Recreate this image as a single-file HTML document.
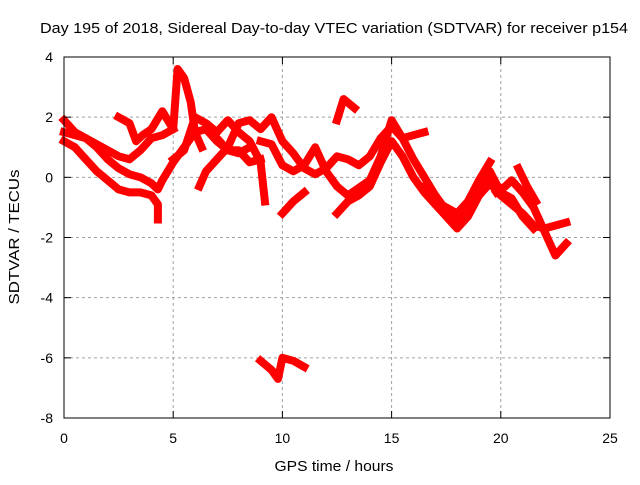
<!DOCTYPE html>
<html><head><meta charset="utf-8"><style>
body{margin:0;background:#fff;width:640px;height:480px;overflow:hidden}
svg{font-family:"Liberation Sans",sans-serif}
</style></head><body>
<svg id="chart" width="640" height="480" viewBox="0 0 640 480">
<text x="334" y="33" font-size="15" text-anchor="middle" textLength="588" lengthAdjust="spacingAndGlyphs">Day 195 of 2018, Sidereal Day-to-day VTEC variation (SDTVAR) for receiver p154</text>
<text x="334" y="471" font-size="15" text-anchor="middle" textLength="119" lengthAdjust="spacingAndGlyphs">GPS time / hours</text>
<text x="0" y="0" font-size="15" text-anchor="middle" textLength="135" lengthAdjust="spacingAndGlyphs" transform="translate(19,237) rotate(-90)">SDTVAR / TECUs</text>
<g id="grid"></g>
<g id="series"></g>
<rect x="64" y="57" width="546" height="361" fill="none" stroke="#000" stroke-width="1"/>
<g id="ticks"></g>
</svg>
<script>
const xTicks=[0,5,10,15,20,25];
const yTicks=[4,2,0,-2,-4,-6,-8];
const track1=[[0,1.9],[0.5,1.5],[1,1.3],[1.5,1.0],[2,0.6],[2.5,0.3],[3,0.1],[3.5,0.0],[4,-0.2],[4.3,-0.4],[4.5,-0.1],[5,0.5],[5.5,1.0],[6,1.5],[6.5,1.6],[7,1.2],[7.5,0.9],[8,0.8],[8.5,1.0]];
const track2=[[0,1.2],[0.5,1.0],[1,0.6],[1.5,0.2],[2,-0.1],[2.5,-0.4],[3,-0.5],[3.5,-0.5],[4,-0.6],[4.3,-0.9],[4.3,-1.4]];
const track3=[[0,1.5],[1,1.3],[2,0.9],[2.5,0.7],[3,0.6],[3.5,0.9],[4,1.3],[4.5,1.4],[5,1.6]];
const track4=[[2.5,2.0],[3,1.8],[3.3,1.2],[3.6,1.4],[4,1.6],[4.5,2.2],[5,1.6],[5.2,3.6],[5.5,3.3],[5.8,2.5],[6,1.5],[6.3,1.0]];
const track5=[[5,0.6],[5.5,0.9],[6,2.0],[6.5,1.8],[7,1.5],[7.5,1.9],[8,1.5],[8.5,1.2],[9,0.5],[9.2,-0.8]];
const track6=[[6.2,-0.3],[6.5,0.2],[7,0.6],[7.5,1.0],[8,1.8],[8.5,1.9],[9,1.6],[9.5,2.0],[10,1.2],[10.5,0.8],[11,0.3],[11.5,0.1],[12,0.3],[12.5,0.7],[13,0.6],[13.5,0.4],[14,0.7],[14.5,1.3],[15,1.7],[15.5,1.3],[16,0.6],[16.5,0.0],[17,-0.6],[17.5,-1.1],[18,-1.5],[18.5,-1.2],[19,-0.6],[19.5,-0.2],[20,-0.6],[20.5,-0.9],[21,-1.2],[21.5,-1.6],[22,-1.7],[22.5,-1.6],[23,-1.5]];
const track7=[[9,1.2],[9.5,1.1],[10,0.4],[10.5,0.2],[11,0.4],[11.5,1.0],[12,0.2],[12.5,-0.3],[13,-0.6],[14,-0.1],[14.5,0.7],[15,1.9],[15.5,1.3],[16,1.4],[16.5,1.5]];
const track8=[[12.5,-1.2],[13,-0.8],[13.5,-0.6],[14,-0.3],[14.5,0.5],[15,1.2],[15.5,0.7],[16,0.0],[16.5,-0.5],[17,-0.9],[17.5,-1.3],[18,-1.7],[18.5,-1.3],[19,-0.6],[19.5,0.2],[20,-0.5],[20.5,-0.7],[21,-1.3],[21.5,-1.7]];
const track9=[[12.5,1.9],[12.8,2.6],[13.3,2.3]];
const track10=[[16.5,-0.3],[17,-0.8],[17.5,-1.0],[18,-1.2],[18.5,-0.8],[19,-0.1],[19.5,0.5]];
const track11=[[19.8,-0.5],[20.2,-0.3],[20.5,-0.1],[21,-0.5],[21.5,-1.0],[22,-1.8],[22.5,-2.6],[23,-2.2]];
const track12=[[20.8,0.3],[21.2,-0.3],[21.6,-0.8]];
const track13=[[9,-6.1],[9.5,-6.4],[9.8,-6.7],[10,-6.0],[10.5,-6.1],[11,-6.3]];
const track14=[[10,-1.2],[10.5,-0.8],[11,-0.5]];
const track15=[[7,1.3],[7.5,0.9],[8,0.9],[8.5,0.5],[9,0.6]];
const tracks=[track1,track2,track3,track4,track5,track6,track7,track8,track9,track10,track11,track12,track13,track14,track15];

const X0=64,X1=610,Y0=418,Y1=57;
function sx(v){return X0+(v-0)/(25-0)*(X1-X0);}
function sy(v){return Y0-(v-(-8))/(4-(-8))*(Y0-Y1);}
const NS="http://www.w3.org/2000/svg";
const grid=document.getElementById('grid'),ticks=document.getElementById('ticks'),ser=document.getElementById('series');
function mk(tag,attrs,parent){const e=document.createElementNS(NS,tag);for(const k in attrs)e.setAttribute(k,attrs[k]);parent.appendChild(e);return e;}
xTicks.forEach(t=>{
  const x=sx(t);
  if(t>0&&t<25){const g=mk('line',{x1:x,x2:x,y1:Y1,y2:Y0,stroke:'#a0a0a0','stroke-dasharray':'3,3'},grid);
  
  }
  const l=mk('line',{x1:x,x2:x,y1:Y0,y2:Y0-7,stroke:'#000'},ticks);
  
  
  const l2=mk('line',{x1:x,x2:x,y1:Y1,y2:Y1+7,stroke:'#000'},ticks);
  
  
  const tx=mk('text',{x:x,y:443,'font-size':14,'text-anchor':'middle'},ticks);tx.textContent=t;
  
  
});
yTicks.forEach(t=>{
  const y=sy(t);
  if(t>-8&&t<4){const g=mk('line',{x1:X0,x2:X1,y1:y,y2:y,stroke:'#a0a0a0','stroke-dasharray':'3,3'},grid);
  
  }
  const l=mk('line',{x1:X0,x2:X0+7,y1:y,y2:y,stroke:'#000'},ticks);
  
  
  const l2=mk('line',{x1:X1,x2:X1-7,y1:y,y2:y,stroke:'#000'},ticks);
  
  
  const tx=mk('text',{x:53,y:y+5,'font-size':14,'text-anchor':'end'},ticks);tx.textContent=t;
  
  
});
tracks.forEach(tr=>{
  const d=tr.map((p,i)=>(i?'L':'M')+sx(p[0]).toFixed(1)+','+sy(p[1]).toFixed(1)).join(' ');
  const p=mk('path',{d:d,fill:'none',stroke:'#ff0000','stroke-width':8,'stroke-linejoin':'round','stroke-linecap':'square'},ser);
  
  
});
</script>
</body></html>
